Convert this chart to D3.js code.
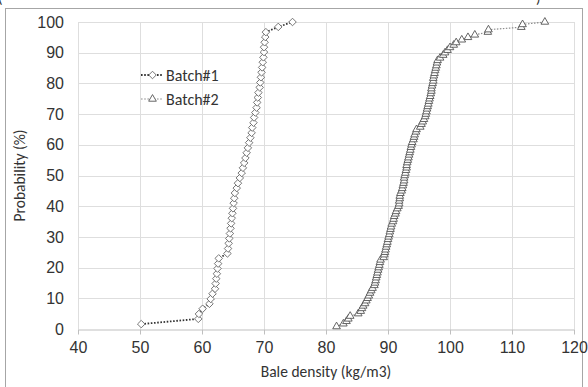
<!DOCTYPE html>
<html>
<head>
<meta charset="utf-8">
<script src="https://cdn.jsdelivr.net/npm/d3@7"></script>
<style>
  html, body { margin: 0; padding: 0; background: #fff; }
  svg { display: block; font-family: Carlito, Calibri, "Open Sans", sans-serif; }
</style>
</head>
<body>
<svg id="chart" width="588" height="387"></svg>
<script>
// Batch#1 : sorted bale densities and cumulative probability (%)
const batch1Density = [50.2, 59.4, 59.5, 60.1, 61.2, 61.4, 61.7, 62.1, 62.2, 62.3,
  62.4, 62.5, 62.6, 62.7, 64.1, 64.2, 64.3, 64.4, 64.5, 64.6,
  64.7, 64.8, 64.9, 65.0, 65.1, 65.2, 65.3, 65.6, 65.8, 66.1,
  66.4, 66.6, 66.8, 67.0, 67.2, 67.4, 67.6, 67.8, 68.0, 68.1,
  68.3, 68.4, 68.6, 68.8, 68.9, 69.0, 69.1, 69.3, 69.4, 69.5,
  69.6, 69.7, 69.8, 69.9, 70.0, 70.0, 70.1, 70.2, 70.3, 72.3, 74.6];
const batch1Prob = [1.6, 3.3, 4.9, 6.6, 8.2, 9.8, 11.5, 13.1, 14.8, 16.4,
  18.0, 19.7, 21.3, 23.0, 24.6, 26.2, 27.9, 29.5, 31.1, 32.8,
  34.4, 36.1, 37.7, 39.3, 41.0, 42.6, 44.3, 45.9, 47.5, 49.2,
  50.8, 52.5, 54.1, 55.7, 57.4, 59.0, 60.7, 62.3, 63.9, 65.6,
  67.2, 68.9, 70.5, 72.1, 73.8, 75.4, 77.0, 78.7, 80.3, 82.0,
  83.6, 85.2, 86.9, 88.5, 90.2, 91.8, 93.4, 95.1, 96.7, 98.4, 100];

// Batch#2
const batch2Density = [81.7, 82.8, 83.3, 83.6, 83.9, 85.2, 85.6, 85.8, 86.0, 86.3,
  86.5, 86.7, 86.9, 87.1, 87.3, 87.5, 87.8, 87.9, 88.0, 88.1,
  88.2, 88.3, 88.4, 88.5, 88.6, 88.7, 88.8, 89.3, 89.4, 89.5,
  89.6, 89.7, 89.8, 89.9, 90.0, 90.1, 90.2, 90.3, 90.4, 90.5,
  90.6, 90.8, 90.9, 91.0, 91.2, 91.3, 91.5, 91.7, 91.8, 91.8,
  91.9, 91.9, 92.0, 92.2, 92.3, 92.4, 92.5, 92.6, 92.6, 92.7,
  92.8, 92.9, 93.0, 93.0, 93.1, 93.2, 93.3, 93.4, 93.5, 93.6,
  93.7, 93.8, 93.9, 94.1, 94.2, 94.3, 94.5, 94.6, 95.2, 95.4,
  95.6, 95.8, 96.0, 96.1, 96.2, 96.3, 96.4, 96.5, 96.6, 96.7,
  96.8, 96.9, 97.0, 97.0, 97.1, 97.2, 97.3, 97.3, 97.4, 97.5,
  97.6, 97.7, 97.8, 97.9, 98.0, 98.4, 98.9, 99.2, 99.6, 100.0,
  100.6, 101.0, 101.9, 102.9, 104.0, 106.1, 106.2, 111.5, 111.7, 115.3];
const batch2Prob = [0.8, 1.7, 2.5, 3.3, 4.2, 5.0, 5.8, 6.7, 7.5, 8.3,
  9.2, 10.0, 10.8, 11.7, 12.5, 13.3, 14.2, 15.0, 15.8, 16.7,
  17.5, 18.3, 19.2, 20.0, 20.8, 21.7, 22.5, 23.3, 24.2, 25.0,
  25.8, 26.7, 27.5, 28.3, 29.2, 30.0, 30.8, 31.7, 32.5, 33.3,
  34.2, 35.0, 35.8, 36.7, 37.5, 38.3, 39.2, 40.0, 40.8, 41.7,
  42.5, 43.3, 44.2, 45.0, 45.8, 46.7, 47.5, 48.3, 49.2, 50.0,
  50.8, 51.7, 52.5, 53.3, 54.2, 55.0, 55.8, 56.7, 57.5, 58.3,
  59.2, 60.0, 60.8, 61.7, 62.5, 63.3, 64.2, 65.0, 65.8, 66.7,
  67.5, 68.3, 69.2, 70.0, 70.8, 71.7, 72.5, 73.3, 74.2, 75.0,
  75.8, 76.7, 77.5, 78.3, 79.2, 80.0, 80.8, 81.7, 82.5, 83.3,
  84.2, 85.0, 85.8, 86.7, 87.5, 88.3, 89.2, 90.0, 90.8, 91.7,
  92.5, 93.3, 94.2, 95.0, 95.8, 96.7, 97.5, 98.3, 99.2, 100];

const xTicks = [40, 50, 60, 70, 80, 90, 100, 110, 120];
const yTicks = [0, 10, 20, 30, 40, 50, 60, 70, 80, 90, 100];
const seriesNames = ["Batch#1", "Batch#2"];

const svg = d3.select("#chart");
const margin = { left: 78, right: 14, top: 22, bottom: 58 };
const W = 588, H = 387;
const textColor = "#333";

const x = d3.scaleLinear().domain([40, 120]).range([margin.left, W - margin.right]);
const y = d3.scaleLinear().domain([0, 100]).range([H - margin.bottom, margin.top]);

// outer frame + remnants of the cropped caption above it
svg.append("rect").attr("x", 5.5).attr("y", 8.5).attr("width", 577).attr("height", 400)
  .attr("fill", "none").attr("stroke", "#a6a6a6").attr("stroke-width", 1);
svg.append("text").attr("x", -2).attr("y", 3).attr("font-size", 15).attr("fill", textColor).text("(");
svg.append("text").attr("x", 536).attr("y", 3).attr("font-size", 15).attr("fill", textColor).text(")");

// gridlines
const grid = svg.append("g").attr("stroke", "#dedede").attr("stroke-width", 1);
grid.selectAll(".h").data(yTicks.filter(d => d > 0)).enter().append("line")
  .attr("x1", x(40)).attr("x2", x(120))
  .attr("y1", d => Math.round(y(d)) + 0.5).attr("y2", d => Math.round(y(d)) + 0.5);
grid.selectAll(".v").data(xTicks).enter().append("line")
  .attr("x1", d => Math.round(x(d)) + 0.5).attr("x2", d => Math.round(x(d)) + 0.5)
  .attr("y1", y(100)).attr("y2", y(0));

// x axis
const xAxis = svg.append("g")
  .attr("transform", `translate(0,${Math.round(y(0)) + 0.5})`)
  .call(d3.axisBottom(x).tickValues(xTicks).tickSize(5).tickPadding(7).tickSizeOuter(0));
xAxis.select(".domain").attr("stroke", "#bfbfbf");
xAxis.selectAll(".tick line").attr("stroke", "#bfbfbf");
xAxis.selectAll("text").attr("font-size", 16).attr("fill", textColor).attr("font-family", null);

// y axis labels only
const yAxis = svg.append("g")
  .attr("transform", `translate(${x(40)},0)`)
  .call(d3.axisLeft(y).tickValues(yTicks).tickSize(0).tickPadding(14));
yAxis.select(".domain").remove();
yAxis.selectAll("text").attr("font-size", 16).attr("fill", textColor).attr("font-family", null);

// axis titles
svg.append("text").attr("x", (x(40) + x(120)) / 2).attr("y", 377)
  .attr("text-anchor", "middle").attr("font-size", 15.5).attr("fill", textColor)
  .text("Bale density (kg/m3)");
svg.append("text").attr("transform", `translate(25,${(y(0) + y(100)) / 2}) rotate(-90)`)
  .attr("text-anchor", "middle").attr("font-size", 15.5).attr("fill", textColor)
  .text("Probability (%)");

const s1 = batch1Density.map((d, i) => ({ x: d, y: batch1Prob[i] }));
const s2 = batch2Density.map((d, i) => ({ x: d, y: batch2Prob[i] }));
const line = d3.line().x(d => x(d.x)).y(d => y(d.y));

const diamond = d3.symbol().type(d3.symbolDiamond2).size(36);
const triangle = d3.symbol().type(d3.symbolTriangle2).size(42);

// Batch#2
svg.append("path").datum(s2).attr("d", line).attr("fill", "none")
  .attr("stroke", "#8c8c8c").attr("stroke-width", 1.2).attr("stroke-dasharray", "1.5,1.5");
svg.append("g").selectAll("path").data(s2).enter().append("path")
  .attr("transform", d => `translate(${x(d.x)},${y(d.y)})`)
  .attr("d", triangle).attr("fill", "#fff").attr("stroke", "#555").attr("stroke-width", 0.9);

// Batch#1
svg.append("path").datum(s1).attr("d", line).attr("fill", "none")
  .attr("stroke", "#333").attr("stroke-width", 1.8).attr("stroke-dasharray", "1.6,1.6");
svg.append("g").selectAll("path").data(s1).enter().append("path")
  .attr("transform", d => `translate(${x(d.x)},${y(d.y)})`)
  .attr("d", diamond).attr("fill", "#fff").attr("stroke", "#666").attr("stroke-width", 0.9);

// legend
const legend = svg.append("g");
const legendY = [75, 99];
seriesNames.forEach((name, i) => {
  const ly = legendY[i];
  legend.append("line").attr("x1", 141).attr("x2", 163).attr("y1", ly).attr("y2", ly)
    .attr("stroke", i === 0 ? "#333" : "#8c8c8c").attr("stroke-width", i === 0 ? 1.8 : 1.2)
    .attr("stroke-dasharray", "1.6,1.6");
  legend.append("path").attr("transform", `translate(152.5,${ly})`)
    .attr("d", i === 0 ? diamond : triangle).attr("fill", "#fff")
    .attr("stroke", i === 0 ? "#666" : "#555").attr("stroke-width", 0.9);
  legend.append("text").attr("x", 166).attr("y", ly).attr("dy", "0.35em")
    .attr("font-size", 16).attr("fill", textColor).text(name);
});
</script>
</body>
</html>
